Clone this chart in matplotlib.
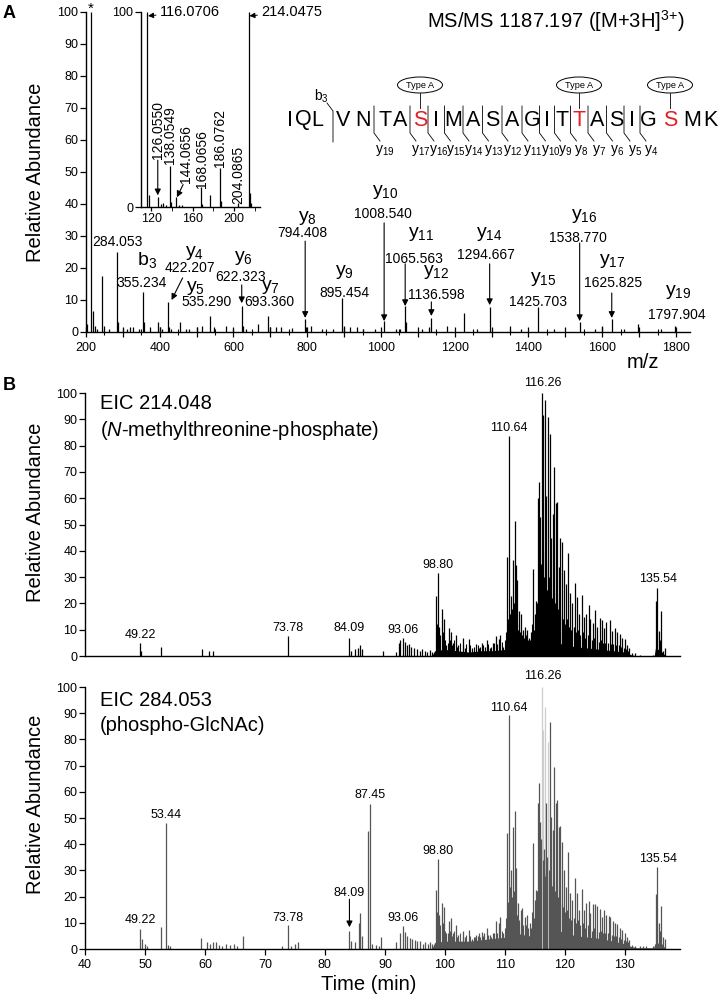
import matplotlib
matplotlib.use('Agg')
import matplotlib.pyplot as plt
from matplotlib.patches import Ellipse
from matplotlib.ticker import MultipleLocator, FuncFormatter, FixedLocator

plt.rcParams['font.family'] = ['Liberation Sans', 'DejaVu Sans']
plt.rcParams['mathtext.fontset'] = 'custom'
plt.rcParams['mathtext.rm'] = 'Liberation Sans'
plt.rcParams['mathtext.it'] = 'Liberation Sans:italic'

# ---------------- data ----------------
# MS/MS spectrum (m/z, relative abundance)
ms_peaks = [(203.5, 2.5), (214.05, 100), (219, 6.5), (224, 2), (231, 1), (242.5, 17.5),
            (250, 2), (262, 1), (284.05, 25), (286, 3), (300, 1), (310, 1), (320, 1.5),
            (327, 1.5), (345, 1), (355.23, 12.5), (357, 3), (373, 1.5), (395, 3), (400, 1.5),
            (405, 1), (422.2, 9.5), (425, 1.5), (430, 1), (455, 3), (470, 1), (480, 1),
            (500, 1.5), (515, 2), (535.29, 5), (548, 1.5), (580, 2), (600, 1), (622.32, 8),
            (625, 2), (635, 1), (667, 2.5), (693.36, 5), (700, 1.5), (715, 1.5), (730, 1.5),
            (760, 1.2), (794.41, 4), (796, 1.5), (810, 2), (840, 1), (870, 1), (895.45, 10.5),
            (900, 2), (915, 1.5), (935, 1.5), (950, 1), (985, 1), (1008.54, 3.5), (1040, 1),
            (1052, 1), (1065.56, 8), (1067, 3), (1110, 1), (1130, 1.5), (1136.6, 4.5),
            (1179, 2), (1226, 6), (1260, 1), (1294.67, 7.7), (1350, 2), (1380, 1),
            (1425.7, 7.7), (1470, 1), (1538.77, 3), (1580, 1), (1600, 2), (1625.83, 4),
            (1660, 1), (1698, 2.5), (1760, 1), (1797.9, 2)]

# low-mass inset
inset_peaks = [(116.07, 100), (117.7, 6), (126.06, 5), (129, 1.5), (131, 2), (134, 1),
               (138.05, 21), (139, 2.5), (144.07, 5), (147, 1), (150, 1), (168.07, 10),
               (169, 1.5), (177, 6), (186.08, 20), (187, 3), (204.09, 2), (214.05, 100),
               (215.05, 7), (216, 2)]
inset_labels = ['126.0550', '138.0549', '144.0656', '168.0656', '186.0762', '204.0865']

a_ions = ['b_{3}', 'y_{4}', 'y_{5}', 'y_{6}', 'y_{7}', 'y_{8}', 'y_{9}', 'y_{10}', 'y_{11}',
          'y_{12}', 'y_{14}', 'y_{15}', 'y_{16}', 'y_{17}', 'y_{19}']
a_ion_mz = ['355.234', '422.207', '535.290', '622.323', '693.360', '794.408', '895.454',
            '1008.540', '1065.563', '1136.598', '1294.667', '1425.703', '1538.770',
            '1625.825', '1797.904']

seq = 'IQLVNTASIMASAGITTASIGSMK'
mod_sites = [7, 16, 21]
y_ions = [19, 17, 16, 15, 14, 13, 12, 11, 10, 9, 8, 7, 6, 5, 4]
b_ions = [3]

# EIC 214.048 (time, relative abundance)
eic214 = [(49.22, 5.0), (49.4, 2.0), (52.7, 3.5), (59.5, 2.5), (60.7, 2.0), (61.4, 2.0),
          (73.78, 7.5), (84.09, 7.0), (84.4, 2.0), (85.0, 2.5), (85.5, 3.0), (85.8, 4.0),
          (86.1, 2.5), (89.6, 2.0), (91.8, 1.5), (92.3, 5.0), (92.6, 6.0), (93.06, 7.0),
          (93.3, 5.5), (93.7, 4.0), (94.0, 4.5), (94.4, 3.5), (94.8, 3.0), (95.3, 2.5),
          (95.8, 2.0), (96.2, 2.5), (96.7, 2.0), (97.1, 1.5), (97.5, 2.3), (97.9, 1.5),
          (98.5, 22.8), (98.8, 31.7), (99.05, 11), (99.5, 18), (99.83, 14), (100.27, 4),
          (100.67, 10.5), (101.0, 9), (101.39, 5), (101.83, 8), (102.22, 4), (102.94, 7),
          (103.33, 3), (103.94, 6.5), (104.44, 3), (105.16, 4.5), (105.72, 3), (106.16, 5),
          (106.66, 3.5), (106.94, 6), (107.5, 3), (107.94, 5), (108.6, 7.5), (108.94, 6.5),
          (109.27, 8), (109.72, 3.5), (110.39, 37.5), (110.64, 83.7), (110.83, 16),
          (111.1, 23), (111.44, 36.5), (111.66, 51.3), (111.88, 34.5), (112.1, 29),
          (112.44, 17), (112.77, 16), (113.05, 10), (113.38, 11), (113.72, 10), (114.05, 7),
          (114.33, 9), (114.72, 33), (115.05, 16), (115.27, 21), (115.55, 60), (115.77, 66.3),
          (115.94, 53), (116.2, 100), (116.42, 91.5), (116.66, 97.4), (116.94, 61),
          (117.22, 91), (117.5, 84.6), (117.77, 45), (118.05, 54), (118.27, 72), (118.5, 58),
          (118.77, 58.7), (119.05, 34), (119.27, 44.8), (119.61, 43.5), (119.88, 32.8),
          (120.16, 27.5), (120.6, 39), (120.94, 23.8), (121.27, 20), (121.77, 27.8),
          (122.05, 22.5), (122.38, 16), (122.83, 23.3), (123.16, 15), (123.61, 16),
          (124.0, 19.5), (124.27, 14), (124.72, 12.5), (125.11, 17.5), (125.44, 11),
          (125.83, 14.3), (126.16, 13.8), (126.5, 10.5), (126.94, 13), (127.5, 13.8),
          (127.88, 9.5), (128.33, 10.5), (128.72, 9), (129.16, 8.5), (129.61, 7), (130.0, 6.3),
          (130.38, 4.2), (130.72, 3), (131.16, 1), (131.66, 1), (132.5, 0.5), (134.72, 0.5),
          (135.16, 21), (135.44, 26), (135.72, 9.5), (136.05, 17), (136.38, 2), (136.66, 3)]
minor214 = [(98.65, 12), (99.25, 8), (99.65, 9), (100.0, 6), (100.45, 5), (100.85, 6),
            (101.2, 4), (101.6, 6), (102.0, 3.5), (102.6, 5), (103.1, 4), (103.6, 4.5),
            (104.2, 4), (104.8, 3.5), (105.45, 4), (105.9, 3.5), (106.4, 4), (107.2, 4.5),
            (107.7, 3.5), (108.25, 5), (108.77, 4.5), (109.1, 5), (109.5, 5.5), (110.0, 6),
            (110.2, 9), (110.5, 14), (110.95, 12), (111.25, 18), (111.55, 20), (111.77, 15),
            (112.0, 12), (112.25, 10), (112.6, 9), (112.9, 8), (113.2, 7), (113.55, 8),
            (113.9, 6), (114.2, 6), (114.5, 12), (114.9, 10), (115.15, 13), (115.4, 20),
            (115.66, 25), (115.85, 30), (116.05, 35), (116.3, 40), (116.54, 30), (116.8, 35),
            (117.08, 25), (117.36, 30), (117.64, 25), (117.9, 22), (118.15, 25), (118.38, 20),
            (118.63, 22), (118.9, 18), (119.15, 16), (119.45, 15), (119.75, 14), (120.0, 12),
            (120.38, 14), (120.77, 11), (121.1, 10), (121.5, 11), (121.9, 9), (122.2, 10),
            (122.6, 8), (123.0, 9), (123.4, 7), (123.8, 8), (124.15, 7), (124.5, 6),
            (124.9, 7), (125.3, 6), (125.65, 5.5), (126.0, 6), (126.33, 5), (126.7, 5),
            (127.2, 5), (127.7, 4.5), (128.1, 4.5), (128.5, 4), (128.95, 4), (129.4, 3.5),
            (129.8, 3), (130.2, 2.5), (130.55, 2), (135.3, 8), (135.9, 6)]
floor214 = [(97.8, 0), (98.3, 2), (100, 2.5), (102, 2), (104, 1.5), (106, 2), (108, 2),
            (110, 2.5), (112, 4), (114, 3.5), (116, 6), (118, 6), (120, 4), (122, 3.5),
            (124, 3), (126, 2.5), (128, 2), (130, 1.5), (131, 0.5), (132, 0), (134.9, 0),
            (135.1, 3), (136, 2), (136.8, 0)]
lab214 = [(49.22, 8.0, '49.22'), (73.78, 10.6, '73.78'), (84.09, 10.6, '84.09'),
          (93.06, 9.9, '93.06'), (98.80, 34.6, '98.80'), (110.64, 86.7, '110.64'),
          (116.26, 103.8, '116.26'), (135.54, 29.3, '135.54')]

# EIC 284.053
eic284 = [(49.22, 7.5), (49.5, 4), (50.0, 2), (50.3, 1), (52.6, 8.5), (53.44, 48), (53.8, 1.5),
          (54.2, 1), (59.3, 4.2), (60.3, 2.5), (60.8, 2), (61.3, 2.5), (61.8, 2.5), (62.4, 1.5),
          (62.9, 1), (63.5, 2), (64.2, 1.5), (64.8, 2), (65.3, 1), (66.3, 5), (72.9, 1),
          (73.78, 9), (74.4, 1), (75.0, 2), (75.5, 2.5), (84.09, 7), (84.3, 3), (85.0, 2.5),
          (85.6, 10), (85.8, 13.7), (86.1, 5), (87.2, 45), (87.45, 55.5), (87.9, 2), (88.5, 1.5),
          (89.0, 1), (89.4, 4.5), (91.9, 2.5), (92.5, 6), (93.06, 8.8), (93.4, 6.5), (93.7, 5),
          (94.2, 4.3), (94.6, 4), (95.0, 3.5), (95.4, 3), (95.8, 3), (96.39, 2), (96.7, 2.5),
          (97.2, 2), (97.5, 2.7), (97.8, 2), (98.5, 22.5), (98.8, 34.2), (99.05, 13),
          (99.5, 17.5), (99.83, 16), (100.27, 6), (100.67, 10.5), (101.0, 12), (101.39, 6),
          (101.83, 9), (102.22, 5.5), (102.94, 7), (103.33, 4.7), (103.94, 7.2), (104.44, 4),
          (105.0, 4.7), (105.27, 5.3), (105.72, 6), (106.16, 6.6), (106.55, 6), (106.94, 8),
          (107.5, 5.3), (107.94, 6), (108.6, 10.5), (108.94, 10), (109.27, 12.3), (109.72, 6),
          (110.39, 44.4), (110.64, 89.3), (110.83, 23.7), (111.1, 30), (111.44, 46.4),
          (111.72, 52.8), (111.94, 31), (112.27, 17.5), (112.61, 15), (112.94, 15.6),
          (113.38, 12.3), (113.72, 13), (114.16, 10), (114.72, 40.3), (115.05, 18.7),
          (115.27, 22.5), (115.55, 55.8), (115.77, 63.5), (115.94, 48.6), (116.1, 42),
          (116.5, 38), (116.8, 30), (116.94, 55.6), (117.1, 35), (117.5, 86.8), (117.77, 50.5),
          (118.05, 45.4), (118.27, 69.3), (118.5, 55.6), (118.77, 57), (119.05, 46.4),
          (119.27, 47), (119.61, 41), (119.88, 30), (120.16, 23.7), (120.6, 37.1),
          (120.94, 21.2), (121.27, 18.7), (121.77, 27), (122.05, 21.2), (122.38, 15),
          (122.83, 23), (123.16, 15), (123.61, 17.5), (124.0, 18.5), (124.27, 13.8),
          (124.72, 17), (125.11, 17.3), (125.44, 16.3), (125.83, 15.3), (126.16, 12.3),
          (126.5, 15), (126.94, 13), (127.33, 12.7), (127.61, 12.3), (128.05, 10.5),
          (128.38, 10), (128.72, 9.7), (129.16, 8), (129.61, 7.4), (130.0, 6), (130.38, 4.7),
          (130.72, 3.5), (131.16, 1.6), (131.66, 1.2), (132.5, 1), (133.05, 1), (133.6, 1),
          (134.72, 1), (135.16, 20.9), (135.44, 31.2), (135.72, 10), (136.05, 16.3),
          (136.38, 4.7), (136.66, 4)]
minor284 = [(98.65, 14), (99.25, 9), (99.65, 10), (100.0, 7), (100.45, 6), (100.85, 7),
            (101.2, 5), (101.6, 7), (102.0, 4.5), (102.6, 6), (103.1, 5), (103.6, 5.5),
            (104.2, 5), (104.8, 4.5), (105.45, 5), (105.9, 4.5), (106.4, 5), (107.2, 5.5),
            (107.7, 4.5), (108.25, 6), (108.77, 6), (109.1, 6.5), (109.5, 7), (110.0, 8),
            (110.2, 12), (110.5, 18), (110.95, 14), (111.25, 20), (111.55, 22), (111.8, 18),
            (112.1, 13), (112.4, 11), (112.75, 10), (113.1, 9), (113.55, 9), (113.9, 8),
            (114.3, 8), (114.5, 14), (114.9, 12), (115.15, 15), (115.4, 22), (115.66, 28),
            (115.85, 32), (116.3, 34), (116.65, 28), (117.35, 30), (117.64, 26), (117.9, 24),
            (118.15, 26), (118.38, 22), (118.63, 24), (118.9, 20), (119.15, 18), (119.45, 17),
            (119.75, 16), (120.0, 14), (120.38, 15), (120.77, 12), (121.1, 11), (121.5, 12),
            (121.9, 10), (122.2, 11), (122.6, 9), (123.0, 10), (123.4, 8), (123.8, 9),
            (124.15, 8), (124.5, 7), (124.9, 8), (125.3, 7), (125.65, 6.5), (126.0, 7),
            (126.33, 6), (126.7, 6), (127.2, 6), (127.5, 5.5), (127.9, 5.5), (128.2, 5),
            (128.55, 5), (128.95, 4.5), (129.4, 4), (129.8, 3.5), (130.2, 3), (130.55, 2.5),
            (135.3, 9), (135.9, 7)]
eic284_faint = [(116.26, 100), (116.38, 83.6), (116.66, 92.5), (117.22, 79)]
floor284 = [(97.8, 0), (98.3, 2.5), (100, 3), (102, 3), (104, 3), (106, 3.5), (108, 4),
            (110, 4.5), (112, 6), (114, 5), (116, 8), (118, 8), (120, 6), (122, 5),
            (124, 4.5), (126, 4), (128, 3), (130, 2), (131, 1), (132, 0.5), (134.8, 0.5),
            (135, 2), (136, 2.5), (136.8, 0)]
lab284 = [(49.22, 11.1, '49.22'), (53.44, 51.1, '53.44'), (73.78, 11.8, '73.78'),
          (84.09, 21.4, '84.09'), (87.45, 58.8, '87.45'), (93.06, 11.8, '93.06'),
          (98.80, 37.4, '98.80'), (110.64, 92.0, '110.64'), (116.26, 104.2, '116.26'),
          (135.54, 34.4, '135.54')]

# ---------------- layout ----------------
W, H = 721, 997
fig = plt.figure(figsize=(W / 100, H / 100), dpi=100)


def box(left, top, right, bottom):
    return [left / W, 1 - bottom / H, (right - left) / W, (bottom - top) / H]


def style(ax):
    for s in ['top', 'right']:
        ax.spines[s].set_visible(False)
    for s in ['left', 'bottom']:
        ax.spines[s].set_linewidth(1.0)
    ax.tick_params(labelsize=9, width=0.9)
    ax.tick_params(axis='y', direction='out', length=4, pad=1.5)


arrow_kw = dict(arrowstyle='-|>', color='k', lw=0.8, mutation_scale=9, shrinkA=0, shrinkB=0)

# ---- panel A ----
axA = fig.add_axes(box(86, 12, 690, 332))
style(axA)
mz, inten = zip(*ms_peaks)
axA.vlines(mz, 0, inten, color='k', lw=0.9)
axA.set_xlim(200, 1838)
axA.set_ylim(0, 100)
axA.xaxis.set_major_locator(MultipleLocator(100))
axA.xaxis.set_minor_locator(MultipleLocator(50))
axA.xaxis.set_major_formatter(FuncFormatter(lambda v, p: f'{int(round(v))}' if round(v) % 200 == 0 else ''))
axA.tick_params(axis='x', which='major', direction='inout', length=7)
axA.tick_params(axis='x', which='minor', direction='inout', length=4, width=0.8)
axA.yaxis.set_major_locator(MultipleLocator(10))
axA.set_ylabel('Relative Abundance', fontsize=14.5)
axA.yaxis.set_label_coords(-0.068, 0.5)

a_arrows = [((462, 16.9), (432, 10)), ((622.3, 14.7), (622.3, 9.0)), ((794.4, 28.4), (794.4, 4.4)),
            ((1008.5, 34.1), (1008.5, 3.4)), ((1065.6, 21.3), (1065.6, 8.1)),
            ((1136.6, 9.4), (1136.6, 5.0)), ((1294.7, 21.3), (1294.7, 8.4)),
            ((1538.8, 27.8), (1538.8, 3.4)), ((1625.8, 12.2), (1625.8, 4.4))]
for start, tip in a_arrows:
    axA.annotate('', xy=tip, xytext=start, arrowprops=arrow_kw)

# ---- inset ----
axI = fig.add_axes(box(141, 12, 260, 207))
axI.set_facecolor('none')
style(axI)
imz, iint = zip(*inset_peaks)
axI.vlines(imz, 0, iint, color='k', lw=0.9)
axI.set_xlim(110, 225)
axI.set_ylim(0, 100)
axI.xaxis.set_major_locator(FixedLocator([120, 160, 200]))
axI.xaxis.set_minor_locator(FixedLocator([140, 180, 220]))
axI.set_yticks([0, 100])
axI.tick_params(axis='x', which='both', direction='out', length=3, pad=1.5)
for lab, tip, txt in [('116.0706', (116.8, 98), (128.5, 100)), ('214.0475', (214.8, 98), (226.5, 100))]:
    axI.annotate(lab, xy=tip, xytext=txt, fontsize=10.5, ha='left', va='center', annotation_clip=False,
                 arrowprops=dict(arrowstyle='-|>', color='k', lw=0.7, mutation_scale=8, shrinkA=1, shrinkB=0))
inset_lab_pos = [(126.4, 24.5), (138.0, 22.0), (153.7, 12.5), (168.5, 9.8), (186.3, 20.5), (203.7, 1.5)]
for (x, y), t in zip(inset_lab_pos, inset_labels):
    axI.text(x, y, t, rotation=90, fontsize=10, ha='center', va='bottom')
axI.annotate('', xy=(126.2, 6), xytext=(126.2, 24), arrowprops=arrow_kw)
axI.annotate('', xy=(144.7, 5), xytext=(150.7, 11.5), arrowprops=arrow_kw)


# ---- panel B ----
def draw_eic(ax, spikes, minor, floor, color):
    ft, fh = zip(*floor)
    ax.fill_between(ft, 0, fh, color=color, lw=0)
    t, h = zip(*minor)
    ax.vlines(t, 0, h, color=color, lw=0.8)
    t, h = zip(*spikes)
    ax.vlines(t, 0, h, color=color, lw=0.9)
    ax.set_xlim(40, 139.2)
    ax.set_ylim(0, 100)
    ax.yaxis.set_major_locator(MultipleLocator(10))
    ax.set_ylabel('Relative Abundance', fontsize=14.5)


axB1 = fig.add_axes(box(85, 393, 680, 656))
style(axB1)
draw_eic(axB1, eic214, minor214, floor214, 'k')
axB1.tick_params(axis='x', bottom=False, labelbottom=False)
axB1.yaxis.set_label_coords(-0.067, 0.548)
for x, y, s in lab214:
    axB1.text(x, y, s, fontsize=9, ha='center', va='center')

axB2 = fig.add_axes(box(85, 687, 680, 949))
style(axB2)
ft, fh = zip(*eic284_faint)
axB2.vlines(ft, 0, fh, color='#cdcdcd', lw=0.9)
draw_eic(axB2, eic284, minor284, floor284, '#555555')
axB2.xaxis.set_major_locator(MultipleLocator(10))
axB2.tick_params(axis='x', direction='out', length=4, pad=3)
axB2.yaxis.set_label_coords(-0.067, 0.553)
axB2.set_xlabel('Time (min)', fontsize=14.5)
axB2.xaxis.set_label_coords(0.476, -0.1)
for x, y, s in lab284:
    axB2.text(x, y, s, fontsize=9, ha='center', va='center')
axB2.annotate('', xy=(84.09, 8.3), xytext=(84.09, 19.0), arrowprops=arrow_kw)

# ---- overlay in pixel units for labels and sequence ----
ov = fig.add_axes([0, 0, 1, 1])
ov.set_facecolor('none')
ov.set_xlim(0, W)
ov.set_ylim(H, 0)
ov.axis('off')

ov.text(9, 13, 'A', fontsize=13, fontweight='bold', ha='center', va='center')
ov.text(9, 385, 'B', fontsize=13, fontweight='bold', ha='center', va='center')
ov.text(556, 21, r'MS/MS 1187.197 ([M+3H]$\mathregular{^{3{+}}}$)', fontsize=14.5, ha='center', va='center')
ov.text(643, 362, 'm/z', fontsize=14.5, ha='center', va='center')
ov.text(91, 9, '*', fontsize=11, ha='center', va='center')
ov.text(117, 242, '284.053', fontsize=10, ha='center', va='center')

# ion labels: string centre x, baseline y, number centre x, number centre y
a_ion_pos = [(147, 265, 142, 283), (195, 256, 190, 268), (195, 291, 207, 302), (243, 261, 241, 277),
             (270, 290, 269, 302), (307, 221, 302, 233), (344, 275, 344, 293), (385, 195, 383, 214),
             (421, 237, 414, 259), (436, 275, 436, 295), (489, 237, 486, 255), (543, 282, 538, 302),
             (584, 219, 578, 238), (612, 264, 613, 283), (678, 295, 677, 315)]
for ion, num, (xi, yi, xn, yn) in zip(a_ions, a_ion_mz, a_ion_pos):
    ov.text(xi, yi, r'$\mathregular{' + ion + '}$', fontsize=14, ha='center', va='baseline')
    ov.text(xn, yn, num, fontsize=10, ha='center', va='center')

# EIC titles
ov.text(100, 403, 'EIC 214.048', fontsize=14.5, ha='left', va='center')
ov.text(100, 430, r'($\mathit{N}$-methylthreonine-phosphate)', fontsize=14.5, ha='left', va='center')
ov.text(100, 700, 'EIC 284.053', fontsize=14.5, ha='left', va='center')
ov.text(100, 725, '(phospho-GlcNAc)', fontsize=14.5, ha='left', va='center')

# peptide sequence with fragment map
lx = [290, 303, 317, 343, 363, 385, 400, 420, 436, 453, 473, 492, 512, 532, 547, 562,
      579, 597, 616, 632, 648, 670, 692, 710]
for i, c in enumerate(seq):
    ov.text(lx[i], 120, c, fontsize=15.5, ha='center', va='center',
            color='#e31e24' if i in mod_sites else 'k')
for n in y_ions:
    k = len(seq) - n
    xs = (lx[k - 1] + lx[k]) / 2
    ov.plot([xs, xs, xs + 6], [106, 133, 141], color='k', lw=0.6)
    ov.text(xs + 11, 151, r'$\mathregular{y_{' + str(n) + '}}$', fontsize=10, ha='center', va='center')
for n in b_ions:
    xs = (lx[n - 1] + lx[n]) / 2 + 3
    ov.plot([xs - 6, xs, xs], [103, 111, 142], color='k', lw=0.6)
    ov.text(xs - 12, 96, r'$\mathregular{b_{' + str(n) + '}}$', fontsize=10, ha='center', va='center')
for i in mod_sites:
    ov.add_patch(Ellipse((lx[i], 85), 45, 16, fill=False, lw=0.7, color='k'))
    ov.text(lx[i], 85, 'Type A', fontsize=6.6, ha='center', va='center')
    ov.plot([lx[i], lx[i]], [93, 108], color='k', lw=0.6)

fig.savefig('out.png', dpi=100)
